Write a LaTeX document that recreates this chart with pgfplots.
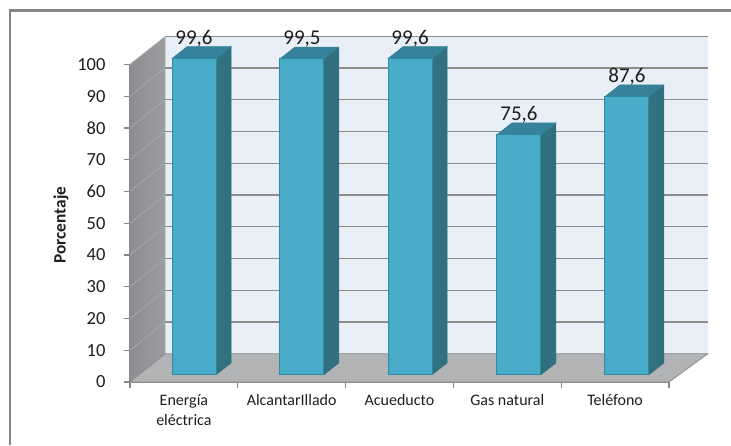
\documentclass[border=0pt]{standalone}
\usepackage{pgfplots}
\pgfplotsset{compat=1.18}
\usepackage{fontspec}
\setmainfont{Carlito}
\definecolor{frameline}{HTML}{858585}
\definecolor{backwall}{HTML}{E8EFF6}
\definecolor{floorgray}{HTML}{B1B3B5}
\definecolor{gridgray}{HTML}{8C8C8C}
\definecolor{sidegrid}{HTML}{A4A6A8}
\definecolor{sidedark}{HTML}{8C8E91}
\definecolor{sidelight}{HTML}{9A9C9F}
\definecolor{axisgray}{HTML}{868686}
\definecolor{barfront}{HTML}{48ABC8}
\definecolor{barside}{HTML}{31707F}
\definecolor{bartop}{HTML}{35829A}
\definecolor{baredge}{HTML}{2F8AA4}
\definecolor{inktext}{HTML}{1E1E1E}

% One cuboid: #1 left edge of the front face (category units), #2 value in percent
\newcommand{\Cuboid}[2]{%
  \pgfmathsetmacro{\xa}{#1}%
  \pgfmathsetmacro{\xb}{#1+0.408}%
  \pgfmathsetmacro{\xc}{#1+0.408+0.139}%
  \pgfmathsetmacro{\xd}{#1+0.139}%
  \pgfmathsetmacro{\ya}{2.3}%
  \pgfmathsetmacro{\yb}{2.3+#2}%
  \pgfmathsetmacro{\yc}{2.3+3.7}%
  \pgfmathsetmacro{\yd}{2.3+3.7+#2}%
  \addplot[draw=barside, fill=barside, line width=0.5pt] coordinates {(\xb,\ya) (\xc,\yc) (\xc,\yd) (\xb,\yb)} -- cycle;
  \addplot[draw=bartop, fill=bartop, line width=0.5pt] coordinates {(\xa,\yb) (\xb,\yb) (\xc,\yd) (\xd,\yd)} -- cycle;
  \addplot[draw=baredge, fill=barfront, line width=1pt] coordinates {(\xa,\ya) (\xb,\ya) (\xb,\yb) (\xa,\yb)} -- cycle;
}

\begin{document}
\begin{tikzpicture}[inktext]
\path[use as bounding box] (-130pt,-63pt) rectangle (601pt,382pt);
\draw[frameline, line width=2.2pt] (-120pt,-63pt) -- (-120pt,371.5pt) -- (601pt,371.5pt);
\begin{axis}[
  at={(0pt,0pt)}, anchor=south west,
  scale only axis, width=539pt, height=317.5pt,
  xmin=0, xmax=5, ymin=0, ymax=100,
  clip=false,
  axis lines=left,
  x axis line style={-, axisgray, line width=1.3pt},
  y axis line style={-, axisgray, line width=1.3pt},
  tick align=outside,
  tick style={axisgray, line width=1.2pt},
  major tick length=6pt,
  unbounded coords=jump,
  xtick={0,1,2,3,4,5},
  xticklabels={},
  extra x ticks={0.5,1.5,2.5,3.5,4.5},
  extra x tick labels={Energía\\eléctrica,AlcantarIllado,Acueducto,Gas natural,Teléfono},
  extra x tick style={major tick length=0pt, tick style={draw=none},
    xticklabel style={font=\fontsize{16}{20}\selectfont, align=center, anchor=north, yshift=-9pt}},
  ytick={0,10,...,100},
  /pgf/number format/assume math mode=true,
  yticklabel style={font=\fontsize{18.5}{20}\selectfont, anchor=east, xshift=-15pt},
  ylabel={\textbf{Porcentaje}},
  ylabel style={at={(axis description cs:-0.128,0.494)}, anchor=center, font=\fontsize{17.3}{20}\selectfont},
]
% walls and floor of the box
\addplot[draw=none, fill=backwall] coordinates {(0.325,8.9) (5.36,8.9) (5.36,108.7) (0.325,108.7)} -- cycle;
\addplot[draw=none, shade, left color=sidedark, right color=sidelight] coordinates {(0,0) (0.325,8.9) (0.325,108.7) (0,100)} -- cycle;
\addplot[draw=gridgray, line width=0.8pt, fill=floorgray] coordinates {(0,0) (5,0) (5.36,8.9) (0.325,8.9)} -- cycle;
% gridlines across the back wall
\addplot[gridgray, line width=1.2pt] coordinates {
  (0.325,18.9) (5.36,18.9) (0.325,nan)
  (0.325,28.9) (5.36,28.9) (0.325,nan)
  (0.325,38.9) (5.36,38.9) (0.325,nan)
  (0.325,48.9) (5.36,48.9) (0.325,nan)
  (0.325,58.9) (5.36,58.9) (0.325,nan)
  (0.325,68.9) (5.36,68.9) (0.325,nan)
  (0.325,78.9) (5.36,78.9) (0.325,nan)
  (0.325,88.9) (5.36,88.9) (0.325,nan)
  (0.325,98.9) (5.36,98.9) (0.325,nan)
  (0.325,108.7) (5.36,108.7)};
% gridlines continued on the side wall
\addplot[sidegrid, line width=0.9pt] coordinates {
  (0,10) (0.325,18.9) (0,nan)
  (0,20) (0.325,28.9) (0,nan)
  (0,30) (0.325,38.9) (0,nan)
  (0,40) (0.325,48.9) (0,nan)
  (0,50) (0.325,58.9) (0,nan)
  (0,60) (0.325,68.9) (0,nan)
  (0,70) (0.325,78.9) (0,nan)
  (0,80) (0.325,88.9) (0,nan)
  (0,90) (0.325,98.9) (0,nan)
  (0,100) (0.325,108.7) (0.325,8.9)};
% the five bars
\Cuboid{0.390}{99.6}
\Cuboid{1.391}{99.5}
\Cuboid{2.394}{99.6}
\Cuboid{3.404}{75.6}
\Cuboid{4.406}{87.6}
% value labels above the bars
\addplot[draw=none, mark=none,
  nodes near coords={\pgfmathprintnumber[fixed, fixed zerofill, precision=1, use comma, assume math mode=true]{\pgfplotspointmeta}},
  point meta=explicit,
  nodes near coords style={anchor=center, yshift=20pt, inktext, font=\fontsize{21}{22}\selectfont},
] table[x=x, y expr=\thisrow{v}+2.3, meta=v] {
x v
0.594 99.6
1.595 99.5
2.598 99.6
3.608 75.6
4.610 87.6
};
\end{axis}
\end{tikzpicture}
\end{document}
